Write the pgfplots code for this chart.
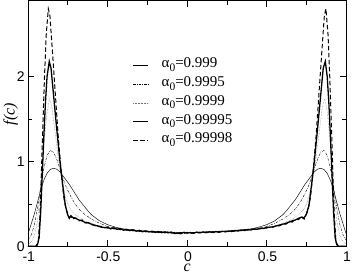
\documentclass[border=0pt]{standalone}
\usepackage{fontspec}
\setmainfont{Liberation Serif}
\newfontfamily\arial{Liberation Sans}
\usepackage{pgfplots}
\pgfplotsset{compat=1.18}
\newcommand{\aent}[1]{\hspace*{13bp}α\raisebox{-0.5ex}{\fontsize{11.5}{11.5}\selectfont 0}=#1}
\begin{document}
\begin{tikzpicture}
\begin{axis}[
  scale only axis,
  width=318bp, height=245.7bp,
  xmin=-1, xmax=1, ymin=0, ymax=2.9,
  xtick={-1,-0.5,0,0.5,1},
  ytick={0,1,2},
  minor x tick num=1,
  minor y tick num=1,
  tick align=inside,
  major tick length=6.5bp,
  minor tick length=4.5bp,
  axis line style={line width=0.6pt},
  every tick/.style={line width=0.5pt},
  /pgf/number format/assume math mode=true,
  tick label style={font=\arial\fontsize{14}{14}\selectfont},
  xticklabel style={inner sep=1bp, yshift=-4.5bp, xshift=0.8bp},
  yticklabel style={inner sep=1.5bp, xshift=-1.5bp},
  xlabel={\fontsize{16}{16}\selectfont\itshape c},
  ylabel={\fontsize{16}{16}\selectfont\itshape f(c)},
  xlabel style={at={(axis description cs:0.5,0)}, anchor=north, inner sep=0pt, text depth=2bp, yshift=-17bp},
  ylabel style={yshift=-6bp, xshift=9bp},
  legend style={draw=none, fill=none, inner sep=0pt, outer sep=0pt,
    at={(rel axis cs:0.328,0.761)}, anchor=north west,
    font=\fontsize{15}{15}\selectfont,
    nodes={inner ysep=0pt, inner xsep=0pt, text height=8.8bp, text depth=3.6bp},
    row sep=6.3bp},
  legend cell align=left,
  legend image code/.code={\draw[#1] (0bp,0bp) -- (15bp,0bp);},
]
% alpha0 = 0.999
\addplot[black, line width=0.45pt] coordinates {
(-1,0.14) (-0.98,0.26) (-0.96,0.38) (-0.94,0.52) (-0.92,0.66) (-0.90,0.78) (-0.88,0.86) (-0.86,0.905) (-0.84,0.92) (-0.82,0.91) (-0.80,0.88) (-0.78,0.83) (-0.76,0.78) (-0.74,0.73) (-0.72,0.67) (-0.70,0.61) (-0.68,0.55) (-0.65,0.48) (-0.62,0.41) (-0.60,0.37) (-0.55,0.30) (-0.50,0.255) (-0.45,0.225) (-0.40,0.205) (-0.30,0.185) (-0.20,0.172) (-0.10,0.165) (0,0.162)
(0.10,0.165) (0.20,0.172) (0.30,0.185) (0.40,0.205) (0.45,0.225) (0.50,0.255) (0.55,0.30) (0.60,0.37) (0.62,0.41) (0.65,0.48) (0.68,0.55) (0.70,0.61) (0.72,0.67) (0.74,0.73) (0.76,0.78) (0.78,0.83) (0.80,0.88) (0.82,0.91) (0.84,0.92) (0.86,0.905) (0.88,0.86) (0.90,0.78) (0.92,0.66) (0.94,0.52) (0.96,0.38) (0.98,0.26) (1,0.14)
};
\addlegendentry{\aent{0.999}}
% alpha0 = 0.9995
\addplot[black, line width=0.4pt, dash pattern=on 2.5bp off 1.2bp on 0.6bp off 1.2bp] coordinates {
(-1,0.07) (-0.98,0.13) (-0.96,0.25) (-0.94,0.45) (-0.92,0.70) (-0.90,0.92) (-0.88,1.07) (-0.86,1.13) (-0.84,1.11) (-0.82,1.03) (-0.80,0.92) (-0.78,0.80) (-0.76,0.70) (-0.74,0.62) (-0.72,0.55) (-0.70,0.49) (-0.67,0.42) (-0.64,0.37) (-0.60,0.32) (-0.55,0.27) (-0.50,0.235) (-0.45,0.21) (-0.40,0.195) (-0.30,0.178) (-0.20,0.17) (-0.10,0.165) (0,0.162)
(0.10,0.165) (0.20,0.17) (0.30,0.178) (0.40,0.195) (0.45,0.21) (0.50,0.235) (0.55,0.27) (0.60,0.32) (0.64,0.37) (0.67,0.42) (0.70,0.49) (0.72,0.55) (0.74,0.62) (0.76,0.70) (0.78,0.80) (0.80,0.92) (0.82,1.03) (0.84,1.11) (0.86,1.13) (0.88,1.07) (0.90,0.92) (0.92,0.70) (0.94,0.45) (0.96,0.25) (0.98,0.13) (1,0.07)
};
\addlegendentry{\aent{0.9995}}
% alpha0 = 0.9999
\addplot[black!55, line width=0.45pt, dash pattern=on 0.5bp off 1bp] coordinates {
(-1,0.02) (-0.98,0.05) (-0.96,0.12) (-0.94,0.30) (-0.92,0.70) (-0.90,1.20) (-0.88,1.58) (-0.865,1.74) (-0.85,1.65) (-0.83,1.35) (-0.81,1.05) (-0.79,0.80) (-0.77,0.62) (-0.75,0.50) (-0.73,0.43) (-0.70,0.37) (-0.67,0.33) (-0.64,0.30) (-0.60,0.27) (-0.56,0.245) (-0.52,0.23) (-0.48,0.215) (-0.44,0.21) (-0.40,0.195) (-0.36,0.192) (-0.32,0.18) (-0.28,0.18) (-0.24,0.17) (-0.20,0.172) (-0.16,0.163) (-0.12,0.166) (-0.08,0.158) (-0.04,0.163) (0,0.157)
(0.04,0.165) (0.08,0.16) (0.12,0.167) (0.16,0.165) (0.20,0.172) (0.24,0.174) (0.28,0.18) (0.32,0.186) (0.36,0.19) (0.40,0.2) (0.44,0.205) (0.48,0.218) (0.52,0.228) (0.56,0.245) (0.60,0.27) (0.64,0.30) (0.67,0.33) (0.70,0.37) (0.73,0.43) (0.75,0.50) (0.77,0.62) (0.79,0.80) (0.81,1.05) (0.83,1.35) (0.85,1.65) (0.865,1.74) (0.88,1.58) (0.90,1.20) (0.92,0.70) (0.94,0.30) (0.96,0.12) (0.98,0.05) (1,0.02)
};
\addlegendentry{\aent{0.9999}}
% alpha0 = 0.99995
\addplot[black, line width=1.3pt] coordinates {
(-1,0) (-0.95,0.0) (-0.94,0.02) (-0.93,0.10) (-0.92,0.40) (-0.91,0.85) (-0.90,1.30) (-0.89,1.70) (-0.88,2.00) (-0.866,2.18) (-0.855,2.10) (-0.84,1.80) (-0.82,1.40) (-0.80,1.02) (-0.78,0.70) (-0.765,0.48) (-0.75,0.37) (-0.74,0.33) (-0.73,0.36) (-0.72,0.34) (-0.70,0.33) (-0.68,0.31) (-0.66,0.30) (-0.64,0.28) (-0.62,0.275) (-0.60,0.26) (-0.58,0.245) (-0.56,0.24) (-0.54,0.225) (-0.52,0.22)
(-0.50,0.225) (-0.48,0.205) (-0.46,0.218) (-0.44,0.200) (-0.42,0.210) (-0.40,0.190) (-0.38,0.200) (-0.36,0.185) (-0.34,0.195) (-0.32,0.178) (-0.30,0.188) (-0.28,0.172) (-0.26,0.182) (-0.24,0.168) (-0.22,0.178) (-0.20,0.163) (-0.18,0.175) (-0.16,0.160) (-0.14,0.170) (-0.12,0.158) (-0.10,0.168) (-0.08,0.150) (-0.06,0.155) (-0.04,0.148) (-0.02,0.165) (0,0.155)
(0.02,0.162) (0.04,0.152) (0.06,0.168) (0.08,0.158) (0.10,0.170) (0.12,0.160) (0.14,0.172) (0.16,0.162) (0.18,0.174) (0.20,0.165) (0.22,0.178) (0.24,0.170) (0.26,0.180) (0.28,0.175) (0.30,0.186) (0.32,0.180) (0.34,0.192) (0.36,0.186) (0.38,0.198) (0.40,0.192) (0.42,0.205) (0.44,0.200) (0.46,0.213) (0.48,0.210) (0.50,0.222)
(0.52,0.225) (0.54,0.23) (0.56,0.24) (0.58,0.25) (0.60,0.26) (0.62,0.27) (0.64,0.285) (0.66,0.30) (0.68,0.31) (0.70,0.33) (0.72,0.345) (0.73,0.33) (0.74,0.35) (0.75,0.38) (0.765,0.48) (0.78,0.70) (0.80,1.02) (0.82,1.40) (0.84,1.80) (0.855,2.10) (0.868,2.18) (0.88,2.00) (0.89,1.70) (0.90,1.30) (0.91,0.85) (0.92,0.40) (0.93,0.10) (0.94,0.02) (0.95,0) (1,0)
};
\addlegendentry{\aent{0.99995}}
% alpha0 = 0.99998
\addplot[black, line width=1pt, dash pattern=on 4.5bp off 2.5bp] coordinates {
(-1,0) (-0.95,0) (-0.935,0.05) (-0.925,0.35) (-0.915,0.9) (-0.905,1.5) (-0.895,2.05) (-0.885,2.5) (-0.872,2.80) (-0.862,2.72) (-0.85,2.40) (-0.83,1.85) (-0.81,1.30) (-0.79,0.85) (-0.775,0.58) (-0.76,0.44) (-0.745,0.34) (-0.73,0.35) (-0.72,0.32) (-0.70,0.335) (-0.68,0.30) (-0.66,0.31) (-0.64,0.275) (-0.62,0.28) (-0.60,0.255) (-0.58,0.25) (-0.56,0.235) (-0.54,0.235) (-0.52,0.22)
(-0.50,0.215) (-0.48,0.222) (-0.46,0.205) (-0.44,0.212) (-0.42,0.195) (-0.40,0.205) (-0.38,0.188) (-0.36,0.198) (-0.34,0.182) (-0.32,0.192) (-0.30,0.175) (-0.28,0.185) (-0.26,0.170) (-0.24,0.180) (-0.22,0.165) (-0.20,0.176) (-0.18,0.160) (-0.16,0.172) (-0.14,0.158) (-0.12,0.170) (-0.10,0.155) (-0.08,0.165) (-0.06,0.150) (-0.04,0.162) (-0.02,0.152) (0,0.165)
(0.02,0.150) (0.04,0.163) (0.06,0.155) (0.08,0.167) (0.10,0.156) (0.12,0.170) (0.14,0.160) (0.16,0.172) (0.18,0.163) (0.20,0.176) (0.22,0.168) (0.24,0.180) (0.26,0.172) (0.28,0.185) (0.30,0.178) (0.32,0.190) (0.34,0.184) (0.36,0.196) (0.38,0.190) (0.40,0.203) (0.42,0.198) (0.44,0.210) (0.46,0.205) (0.48,0.218) (0.50,0.215)
(0.52,0.228) (0.54,0.225) (0.56,0.245) (0.58,0.24) (0.60,0.265) (0.62,0.26) (0.64,0.29) (0.66,0.285) (0.68,0.32) (0.70,0.315) (0.72,0.35) (0.735,0.32) (0.745,0.36) (0.76,0.44) (0.775,0.58) (0.79,0.85) (0.81,1.30) (0.83,1.85) (0.85,2.40) (0.862,2.72) (0.872,2.80) (0.885,2.5) (0.895,2.05) (0.905,1.5) (0.915,0.9) (0.925,0.35) (0.935,0.05) (0.95,0) (1,0)
};
\addlegendentry{\aent{0.99998}}
\end{axis}
\end{tikzpicture}
\end{document}
